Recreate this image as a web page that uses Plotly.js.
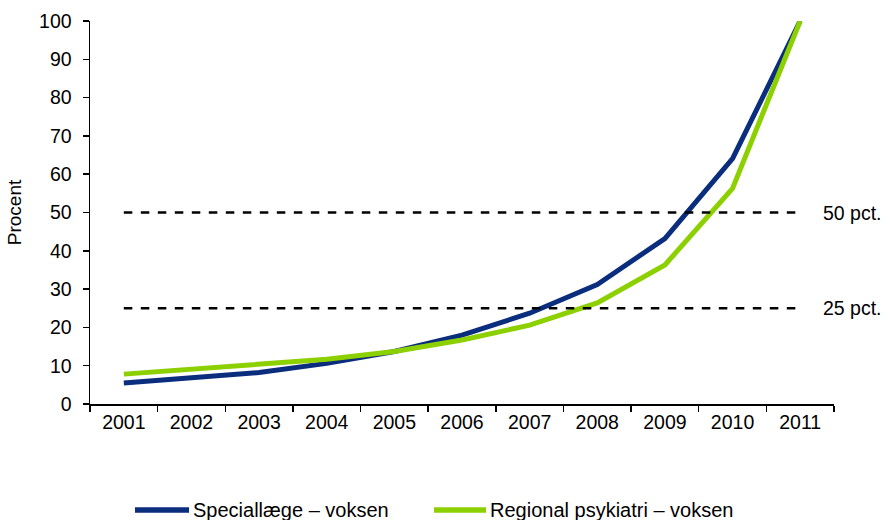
<!DOCTYPE html>
<html><head><meta charset="utf-8">
<script src="https://cdn.plot.ly/plotly-3.0.1.min.js"></script>
<style>body{margin:0;background:#fff}#c{width:896px;height:520px}</style>
</head><body><div id="c"></div>
<script>
const years = ['2001','2002','2003','2004','2005','2006','2007','2008','2009','2010','2011'];
const speciallaege = [5.5, 6.8, 8.2, 10.6, 13.7, 18.0, 23.7, 31.2, 43.2, 64.1, 100];
const regional = [7.8, 9.1, 10.2, 11.7, 13.7, 16.7, 20.6, 26.4, 36.3, 56.3, 100];
const refLevels = [50, 25];
const refLabels = ['50 pct.', '25 pct.'];
const seriesNames = ['Speciallæge – voksen', 'Regional psykiatri – voksen'];
const seriesColors = ['#0B2D7E', '#8DD000'];

const font = {family: 'Liberation Sans, Arial, sans-serif', size: 19.5, color: '#000'};
const legendFont = {family: 'Liberation Sans, Arial, sans-serif', size: 20, color: '#000'};
const traces = [];
traces.push({x: years, y: speciallaege, name: seriesNames[0], mode: 'lines',
  line: {color: seriesColors[0], width: 5}});
traces.push({x: years, y: regional, name: seriesNames[1], mode: 'lines',
  line: {color: seriesColors[1], width: 5}});
refLevels.forEach(v => traces.push({
  x: [years[0], years[years.length-1]], y: [v, v], mode: 'lines', showlegend: false,
  hoverinfo: 'skip', line: {color: '#000', width: 2.5, dash: '8.5px,8.5px'}
}));

const annotations = refLevels.map((v, i) => ({
  xref: 'paper', yref: 'y', x: 0.983, y: v, xanchor: 'left', yanchor: 'middle',
  text: refLabels[i], showarrow: false, font: font
}));

// custom legend (longer line samples than Plotly's built-in legend)
const legX = [[0.0605, 0.1331], [0.4624, 0.5323]];
const legY = -0.2768;
const shapes = [];
seriesNames.forEach((n, i) => {
  shapes.push({type: 'line', xref: 'paper', yref: 'paper', x0: legX[i][0], x1: legX[i][1], y0: legY, y1: legY,
    line: {color: seriesColors[i], width: 5.5}});
  annotations.push({xref: 'paper', yref: 'paper', x: legX[i][1] + 0.002, y: legY, xanchor: 'left', yanchor: 'middle',
    text: n, showarrow: false, font: legendFont});
});

Plotly.newPlot('c', traces, {
  width: 896, height: 520,
  margin: {l: 90, r: 62, t: 21, b: 116},
  paper_bgcolor: '#fff', plot_bgcolor: '#fff',
  font: font,
  showlegend: false,
  xaxis: {type: 'category', categoryorder: 'array', categoryarray: years, range: [-0.5, years.length - 0.5],
    showgrid: false, showline: true, linecolor: '#000', linewidth: 1.5,
    ticks: 'outside', tickson: 'boundaries', ticklen: 6, tickcolor: '#000', tickwidth: 1.5,
    tickfont: font, zeroline: false, automargin: false},
  yaxis: {range: [0, 100], dtick: 10, showgrid: false, showline: true, linecolor: '#000', linewidth: 1.5,
    ticks: 'outside', ticklen: 6, tickcolor: '#000', tickwidth: 1.5, tickfont: font, zeroline: false,
    ticklabelstandoff: 7, automargin: false,
    title: {text: 'Procent', font: {family: font.family, size: 19, color: '#000'}, standoff: 12}},
  shapes: shapes,
  annotations: annotations
}, {displayModeBar: false, staticPlot: true});
</script></body></html>
